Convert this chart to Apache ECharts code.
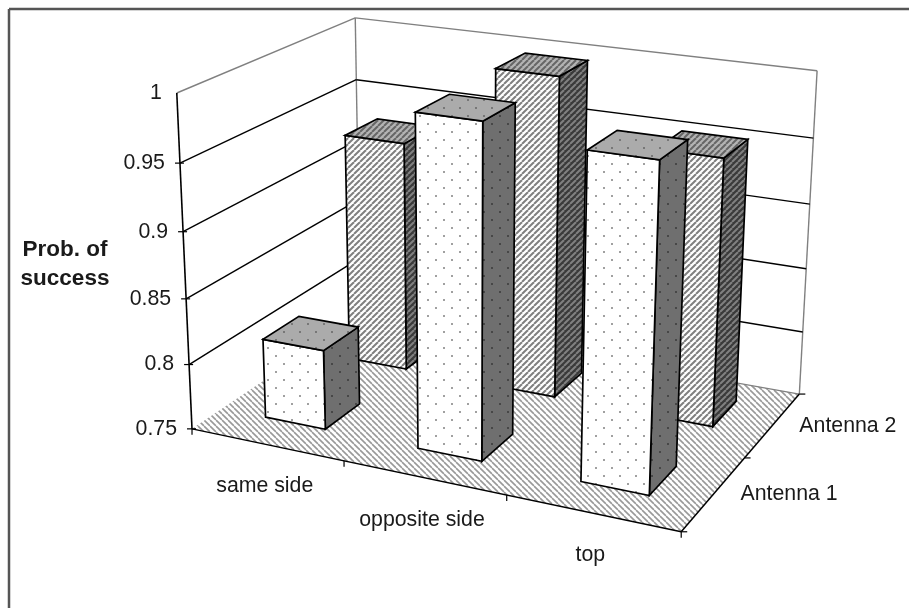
<!DOCTYPE html>
<html><head><meta charset="utf-8">
<script src="https://cdn.jsdelivr.net/npm/echarts@6/dist/echarts.min.js"></script>
<style>html,body{margin:0;background:#fff}#c{width:909px;height:608px}</style></head>
<body><div id="c"></div>
<script>
const categories = ['same side', 'opposite side', 'top'];
const depthLabels = ['Antenna 1', 'Antenna 2'];
const valueTicks = [0.75, 0.8, 0.85, 0.9, 0.95, 1];
const antenna1 = [0.811, 0.996, 0.986];
const antenna2 = [0.931, 0.997, 0.953];

// Camera for the 3D box: maps (u along categories, v along depth, w up), all 0..1, to the page.
const cam = [422.2973, 219.0959, -24.54639, 192.0129, 50.67118, -68.6773, -340.7822, 428.8662, -0.09821924, 0.1408441, -0.05270398];
function project(u, v, w) {
  const d = cam[8] * u + cam[9] * v + cam[10] * w + 1;
  return [(cam[0] * u + cam[1] * v + cam[2] * w + cam[3]) / d, (cam[4] * u + cam[5] * v + cam[6] * w + cam[7]) / d];
}

// Fill patterns for the two series and the floor
function tile(size, bg, draw) {
  const c = document.createElement('canvas');
  c.width = c.height = size;
  const g = c.getContext('2d');
  g.fillStyle = bg;
  g.fillRect(0, 0, size, size);
  draw(g, size);
  return { image: c, repeat: 'repeat' };
}
function dots(bg, fg) {
  return tile(16, bg, g => { g.fillStyle = fg; g.fillRect(3, 3, 2, 2); g.fillRect(11, 11, 2, 2); });
}
function hatch(bg, fg, dir, lw) {
  return tile(6, bg, (g, s) => {
    g.strokeStyle = fg; g.lineWidth = lw;
    for (let k = -1; k <= 1; k++) {
      g.beginPath();
      if (dir > 0) { g.moveTo(k * s, s); g.lineTo(k * s + s, 0); } else { g.moveTo(k * s, 0); g.lineTo(k * s + s, s); }
      g.stroke();
    }
  });
}
const styleA1 = { front: dots('#fff', '#a0a0a0'), side: dots('#6f6f6f', '#474747'), top: dots('#ababab', '#777') };
const styleA2 = { front: hatch('#fff', '#808080', 1, 2), side: hatch('#3a3a3a', '#808080', 1, 2), top: hatch('#b4b4b4', '#666', 1, 2) };
const floorFill = hatch('#fff', '#999', -1, 1.6);

const INK = '#000', WALL = '#808080', FS = 21.3;
function poly(pts, fill) {
  return { type: 'polygon', shape: { points: pts }, style: { fill: fill, stroke: INK, lineWidth: 1.7, lineJoin: 'miter' } };
}
function line(a, b, c, lw) {
  return { type: 'line', shape: { x1: a[0], y1: a[1], x2: b[0], y2: b[1] }, style: { stroke: c, lineWidth: lw, fill: null } };
}
function label(t, x, y, align, bold, size) {
  return { type: 'text', x: x, y: y, style: { text: t, fill: '#1a1a1a', font: (bold ? 'bold ' : '') + (size || FS) + 'px "Liberation Sans", Arial, sans-serif', align: align || 'center', verticalAlign: 'middle' } };
}

// One series per antenna: the axis scales give u and w, the depth slot gives v
function barRenderer(depthIndex, look) {
  return function (params, api) {
    const cs = params.coordSys;
    const p = api.coord([api.value(0), api.value(1)]);
    const band = api.size([1, 0])[0] / cs.width;
    const uc = (p[0] - cs.x) / cs.width - 0.002, w = (cs.y + cs.height - p[1]) / cs.height;
    const vc = (depthIndex + 0.5) / 2 + 0.0145;
    const hu = band * 0.2, hv = 0.1015;
    const u0 = uc - hu, u1 = uc + hu, v0 = vc - hv, v1 = vc + hv;
    return { type: 'group', children: [
      poly([project(u1, v0, 0), project(u1, v1, 0), project(u1, v1, w), project(u1, v0, w)], look.side),
      poly([project(u0, v0, 0), project(u1, v0, 0), project(u1, v0, w), project(u0, v0, w)], look.front),
      poly([project(u0, v0, w), project(u1, v0, w), project(u1, v1, w), project(u0, v1, w)], look.top)
    ] };
  };
}

// Floor, walls, gridlines, ticks and all the axis text
function frameRenderer(params, api) {
  const cs = params.coordSys, kids = [];
  const h = v => (cs.y + cs.height - api.coord([0, v])[1]) / cs.height;
  kids.push({ type: 'polygon', shape: { points: [project(0, 0, 0), project(1, 0, 0), project(1, 1, 0), project(0, 1, 0)] }, style: { fill: floorFill, stroke: null } });
  kids.push(line(project(0, 0, 1), project(0, 1, 1), WALL, 1.4));
  kids.push(line(project(0, 1, 1), project(1, 1, 1), WALL, 1.4));
  kids.push(line(project(0, 1, 1), project(0, 1, 0), WALL, 1.4));
  kids.push(line(project(1, 1, 1), project(1, 1, 0), WALL, 1.4));
  kids.push(line(project(0, 1, 0), project(1, 1, 0), WALL, 1.2));
  valueTicks.forEach(v => {
    const w = h(v), a = project(0, 0, w);
    if (v > 0.75 && v < 1) {
      kids.push(line(a, project(0, 1, w), INK, 1.4));
      kids.push(line(project(0, 1, w), project(1, 1, w), INK, 1.4));
    }
    if (v < 1) kids.push(line([a[0] - 5, a[1]], [a[0] + 4, a[1]], INK, 1.2));
    kids.push(label(String(v), a[0] - 15, a[1], 'right'));
  });
  kids.push(line(project(0, 0, 0), project(0, 0, 1), INK, 1.6));
  kids.push(line(project(0, 0, 0), project(1, 0, 0), INK, 1.5));
  kids.push(line(project(1, 0, 0), project(1, 1, 0), INK, 1.5));
  [0, 1, 2, 3].forEach(i => { const a = project(i / 3, 0, 0); kids.push(line(a, [a[0], a[1] + 6], INK, 1.2)); });
  [0, 0.5, 1].forEach(v => { const a = project(1, v, 0); kids.push(line(a, [a[0] + 6, a[1]], INK, 1.2)); });
  categories.forEach((c, i) => { const a = project((i + 0.5) / 3, 0, 0); kids.push(label(c, a[0] - 2, a[1] + 42)); });
  depthLabels.forEach((c, i) => { const a = project(1, (i + 0.5) / 2, 0); kids.push(label(c, a[0] + 75, a[1] + 1)); });
  kids.push(label('Prob. of', 65, 250, 'center', true, 22.5));
  kids.push(label('success', 65, 279, 'center', true, 22.5));
  return { type: 'group', children: kids };
}

const chart = echarts.init(document.getElementById('c'), null, { renderer: 'canvas' });
const asData = a => a.map((v, i) => [i, v]);
chart.setOption({
  animation: false,
  backgroundColor: '#fff',
  grid: { left: 0, right: 0, top: 0, bottom: 0 },
  xAxis: { type: 'category', data: categories, show: false },
  yAxis: { type: 'value', min: 0.75, max: 1, interval: 0.05, show: false },
  graphic: [
    { type: 'line', shape: { x1: 9, y1: 608, x2: 9, y2: 9 }, style: { stroke: '#555', lineWidth: 2.5 } },
    { type: 'line', shape: { x1: 9, y1: 9, x2: 909, y2: 9 }, style: { stroke: '#555', lineWidth: 2.5 } }
  ],
  series: [
    { type: 'custom', z: 1, clip: false, silent: true, data: [[0, 0.75]], renderItem: frameRenderer },
    { type: 'custom', z: 2, clip: false, silent: true, name: depthLabels[1], data: asData(antenna2), renderItem: barRenderer(1, styleA2) },
    { type: 'custom', z: 3, clip: false, silent: true, name: depthLabels[0], data: asData(antenna1), renderItem: barRenderer(0, styleA1) }
  ]
});
</script></body></html>
